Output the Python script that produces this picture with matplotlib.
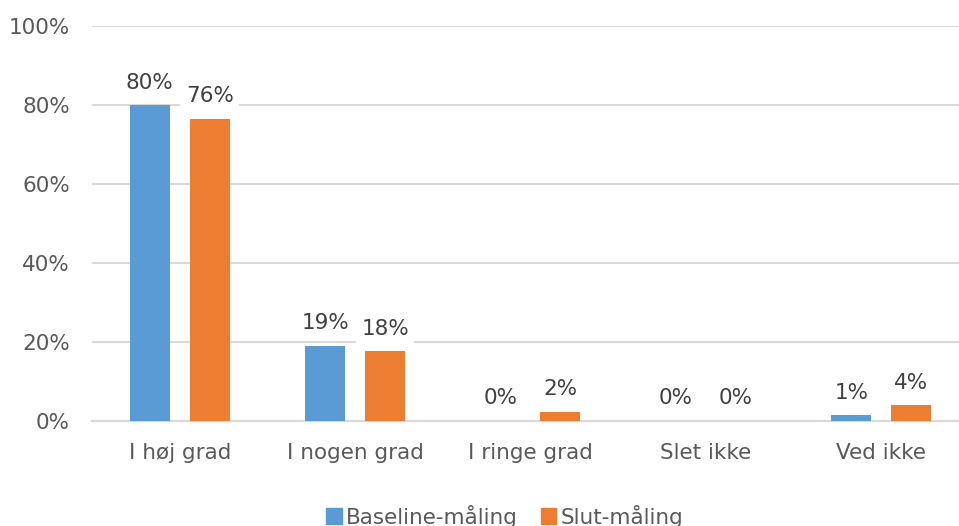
import matplotlib
matplotlib.use("Agg")
import matplotlib.pyplot as plt
import numpy as np
from matplotlib.patches import Patch

categories = ["I høj grad", "I nogen grad", "I ringe grad", "Slet ikke", "Ved ikke"]
baseline = [79.9, 19.0, 0.0, 0.0, 1.4]
slut = [76.5, 17.7, 2.3, 0.0, 4.0]
baseline_labels = ["80%", "19%", "0%", "0%", "1%"]
slut_labels = ["76%", "18%", "2%", "0%", "4%"]
series_names = ["Baseline-måling", "Slut-måling"]

BLUE = "#5B9BD5"
ORANGE = "#ED7D31"
TXT = "#595959"
GRID = "#D9D9D9"

plt.rcParams['font.family'] = ['DejaVu Sans']
FS = 15.5

fig = plt.figure(figsize=(9.59, 5.26), dpi=100)
W, H = 959, 526
left, right = 92, 969
bottom, top = 421, 26
ax = fig.add_axes([left / W, (H - bottom) / H, (right - left) / W, (bottom - top) / H])

x = np.arange(len(categories))
bw = 0.228
off = 0.171
ax.bar(x - off, baseline, bw, color=BLUE, zorder=3)
ax.bar(x + off, slut, bw, color=ORANGE, zorder=3)

for xs, vals, labs in ((x - off, baseline, baseline_labels), (x + off, slut, slut_labels)):
    for xi, v, lab in zip(xs, vals, labs):
        ax.annotate(lab, (xi, v), xytext=(0, 9), textcoords="offset points", ha="center", va="bottom",
                    fontsize=FS, color="#404040", zorder=4,
                    bbox=dict(boxstyle="square,pad=0.25", fc="white", ec="none"))

ax.set_xlim(-0.5, len(categories) - 0.5)
ax.set_ylim(0, 100)
ax.set_yticks([0, 20, 40, 60, 80, 100])
ax.set_yticklabels(["0%", "20%", "40%", "60%", "80%", "100%"])
ax.set_xticks(x)
ax.set_xticklabels(categories)
ax.tick_params(axis="both", length=0, labelsize=FS, labelcolor=TXT)
ax.tick_params(axis="y", pad=16)
ax.tick_params(axis="x", pad=16)
ax.yaxis.grid(True, color=GRID, linewidth=1.5, zorder=0)
ax.set_axisbelow(True)
for s in ["top", "right", "left"]:
    ax.spines[s].set_visible(False)
ax.spines["bottom"].set_color(GRID)
ax.spines["bottom"].set_linewidth(1.5)

handles = [Patch(color=BLUE), Patch(color=ORANGE)]
fig.legend(handles, series_names, loc="center", bbox_to_anchor=(505 / W, 1 - 516 / H), ncol=2,
           frameon=False, fontsize=FS, labelcolor=TXT, handlelength=0.7, handleheight=0.7,
           handletextpad=0.2, columnspacing=1.1)

fig.savefig("out.png", dpi=100)
